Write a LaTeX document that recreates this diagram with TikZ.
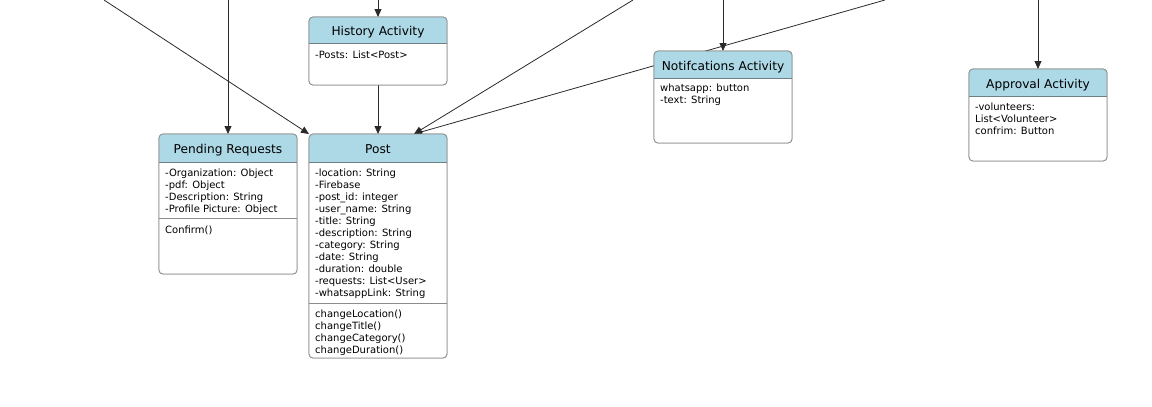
\documentclass[tikz,border=0pt]{standalone}
\usepackage{fontspec}
\setmainfont{DejaVu Sans}
\usetikzlibrary{calc,arrows.meta,positioning}

% header band, header rule and outline of a class box
\newcommand{\classhead}[3]{%
  \begin{scope}
    \clip[rounded corners=4pt] (#1.north west) rectangle (#1.south east);
    \fill[headBlue] (#1.north west) rectangle ([yshift=-#2]#1.north east);
  \end{scope}
  \draw[headRule] ([yshift=-#2]#1.north west) -- ([yshift=-#2]#1.north east);
  \draw[boxLine, rounded corners=4pt] (#1.north west) rectangle (#1.south east);
  \node[titletext] (#1-title) at ([yshift=-#2/2-3pt]#1.north) {#3};
}

\begin{document}
\begin{tikzpicture}[
    x=1pt, y=-1pt,
    >={Triangle[length=8pt,width=7pt]},
    classbox/.style={draw=boxLine, fill=white, rounded corners=4pt, line width=0.8pt,
      anchor=north west, inner sep=0pt, outer sep=0pt, minimum width=138pt},
    titletext/.style={font=\fontsize{12.2}{14}\selectfont, text height=8pt, text depth=2.5pt, inner sep=0pt},
    membertext/.style={font=\fontsize{10}{12}\selectfont, anchor=north west, align=left, inner sep=0pt},
    link/.style={->, draw=linkColor, line width=0.8pt}
    ]

    % Colors
    \definecolor{headBlue}{HTML}{ADD8E6}
    \definecolor{boxLine}{HTML}{8C8C8C}
    \definecolor{headRule}{HTML}{6E7F86}
    \definecolor{linkColor}{HTML}{2A2A2A}
    \tikzset{boxLine/.style={draw=boxLine, line width=0.8pt}, headRule/.style={draw=headRule, line width=0.8pt}}

    \useasboundingbox (0,0) rectangle (1152,407);

    % Boxes (outlines only, filled later)
    \node[classbox, minimum height=140pt] (pending)  at (159,134) {};
    \node[classbox, minimum height=68pt]  (history)  at (309,17)  {};
    \node[classbox, minimum height=224pt] (post)     at (309,134) {};
    \node[classbox, minimum height=92pt]  (notif)    at (654,51)  {};
    \node[classbox, minimum height=92pt]  (approval) at (969,69)  {};

    % Free ends of connectors at the top edge
    \coordinate (topA) at (104,0);
    \coordinate (topB) at (228,0);
    \coordinate (topC) at (378,0);
    \coordinate (topD) at (633,0);
    \coordinate (topE) at (723,0);
    \coordinate (topF) at (885,0);
    \coordinate (topG) at (1038,0);

    % Connectors (behind the boxes)
    \draw[link] (topA) -- (post.north west);
    \draw[link] (topB) -- (pending.north);
    \draw[link] (topC) -- (history.north);
    \draw[link] (history.south) -- (post.north);
    \draw[link] (topD) -- ([xshift=36pt]post.north);
    \draw[link] (topF) -- ([xshift=36pt]post.north);
    \draw[link] (topE) -- (notif.north);
    \draw[link] (topG) -- (approval.north);

    % Boxes on top
    \foreach \b in {pending,history,post,notif,approval}
      \fill[white] (\b.north west) [rounded corners=4pt] rectangle (\b.south east);

    \classhead{pending}{28pt}{Pending Requests}
    \classhead{history}{26pt}{History Activity}
    \classhead{post}{28pt}{Post}
    \classhead{notif}{27pt}{Notifcations Activity}
    \classhead{approval}{27pt}{Approval Activity}

    % Compartment rules
    \draw[boxLine] ([yshift=-84pt]pending.north west) -- ([yshift=-84pt]pending.north east);
    \draw[boxLine] ([yshift=-169pt]post.north west) -- ([yshift=-169pt]post.north east);

    % Members
    \node[membertext] (pending-attrs) at ([xshift=6pt,yshift=-35pt]pending.north west)
      {-Organization: Object\\-pdf: Object\\-Description: String\\-Profile Picture: Object};
    \node[membertext] (pending-ops) at ([xshift=6pt,yshift=-92pt]pending.north west) {Confirm()};

    \node[membertext] (history-attrs) at ([xshift=6pt,yshift=-34pt]history.north west) {-Posts: List<Post>};

    \node[membertext] (post-attrs) at ([xshift=6pt,yshift=-35pt]post.north west)
      {-location: String\\-Firebase\\-post\_id: integer\\-user\_name: String\\-title: String\\
       -description: String\\-category: String\\-date: String\\-duration: double\\
       -requests: List<User>\\-whatsappLink: String};
    \node[membertext] (post-ops) at ([xshift=6pt,yshift=-176pt]post.north west)
      {changeLocation()\\changeTitle()\\changeCategory()\\changeDuration()};

    \node[membertext] (notif-attrs) at ([xshift=6pt,yshift=-33pt]notif.north west)
      {whatsapp: button\\-text: String};

    \node[membertext] (approval-attrs) at ([xshift=6pt,yshift=-34pt]approval.north west)
      {-volunteers:\\List<Volunteer>\\confrim: Button};
\end{tikzpicture}
\end{document}
